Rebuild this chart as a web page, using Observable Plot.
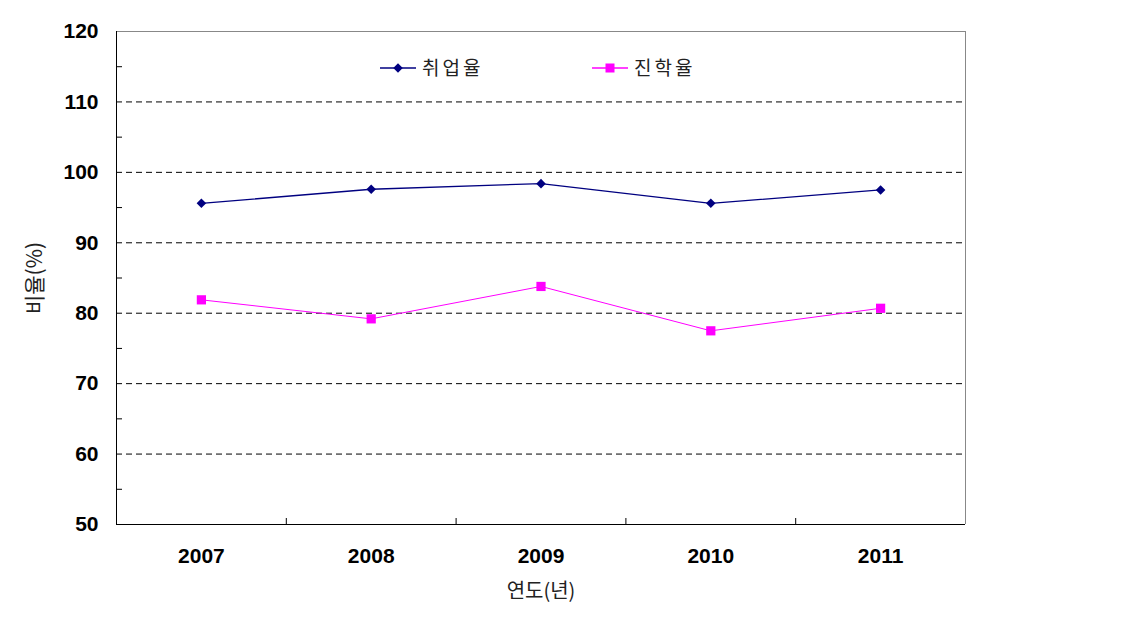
<!DOCTYPE html>
<html>
<head>
<meta charset="utf-8">
<script src="https://cdn.jsdelivr.net/npm/d3@7"></script>
<script src="https://cdn.jsdelivr.net/npm/@observablehq/plot@0.6"></script>
<style>
  body { margin: 0; background: #fff; }
  #chart svg { display: block; }
</style>
</head>
<body>
<div id="chart"></div>
<script>
const years = [2007, 2008, 2009, 2010, 2011];
const seriesNames = ["취업율", "진학율"];
const employmentRate = [95.6, 97.6, 98.4, 95.6, 97.5];
const advancementRate = [81.9, 79.2, 83.8, 77.5, 80.7];
const yTickValues = [50, 60, 70, 80, 90, 100, 110, 120];
const gridValues = [60, 70, 80, 90, 100, 110];
const minorTickValues = [55, 65, 75, 85, 95, 105, 115];
const xLabel = "연도(년)";
const yLabel = "비율(%)";
const colors = ["#000080", "#FF00FF"];

const rows = years.flatMap((yr, i) => [
  {year: yr, series: seriesNames[0], value: employmentRate[i]},
  {year: yr, series: seriesNames[1], value: advancementRate[i]}
]);
const xMin = years[0] - 0.5, xMax = years[years.length - 1] + 0.5;
const boundaries = years.slice(0, -1).map(y => y + 0.5);

const W = 1136, H = 636;
const mL = 116, mT = 31, mR = 171, mB = 112;
const frameW = W - mL - mR, frameH = H - mT - mB;

const korFont = "'Noto Sans CJK KR', 'Noto Sans', sans-serif";

function legend(index, scales, values, dimensions) {
  const g = d3.create("svg:g");
  const y0 = dimensions.marginTop + 37;
  const x0 = dimensions.marginLeft + 264;
  seriesNames.forEach((name, i) => {
    const x = x0 + i * 212;
    g.append("line").attr("x1", x).attr("x2", x + 36).attr("y1", y0).attr("y2", y0)
      .attr("stroke", colors[i]).attr("stroke-width", 1.3);
    if (i === 0) {
      g.append("path").attr("d", d3.symbol(d3.symbolDiamond2, 58)())
        .attr("transform", `translate(${x + 18},${y0})`).attr("fill", colors[i]);
    } else {
      g.append("rect").attr("x", x + 18 - 4.5).attr("y", y0 - 4.5).attr("width", 9).attr("height", 9)
        .attr("fill", colors[i]);
    }
    g.append("text").attr("x", x + 42).attr("y", y0).attr("dy", "0.35em")
      .attr("text-anchor", "start")
      .attr("font-family", korFont).attr("font-size", 19).attr("letter-spacing", 3)
      .attr("fill", "#222").text(name);
  });
  return g.node();
}

const chart = Plot.plot({
  width: W,
  height: H,
  marginLeft: mL,
  marginTop: mT,
  marginRight: mR,
  marginBottom: mB,
  style: {fontFamily: "'Liberation Sans', Arial, sans-serif", color: "#000", background: "#fff"},
  x: {domain: [xMin, xMax], label: null},
  y: {domain: [50, 120], label: null},
  marks: [
    Plot.ruleY(gridValues, {stroke: "#000", strokeDasharray: "6,4", strokeWidth: 1}),
    Plot.ruleY([120], {stroke: "#888"}),
    Plot.ruleX([xMax], {stroke: "#888"}),
    Plot.ruleY([50], {stroke: "#000"}),
    Plot.ruleX([xMin], {stroke: "#000"}),
    Plot.tickY(minorTickValues, {y: d => d, stroke: "#000", insetRight: frameW - 6}),
    Plot.tickX(boundaries, {x: d => d, stroke: "#000", insetTop: frameH - 6}),
    Plot.line(rows.filter(d => d.series === seriesNames[0]), {x: "year", y: "value", stroke: colors[0], strokeWidth: 1.3}),
    Plot.line(rows.filter(d => d.series === seriesNames[1]), {x: "year", y: "value", stroke: colors[1], strokeWidth: 1}),
    Plot.dot(rows.filter(d => d.series === seriesNames[0]), {x: "year", y: "value", symbol: "diamond2", r: 4.3, fill: colors[0]}),
    Plot.dot(rows.filter(d => d.series === seriesNames[1]), {x: "year", y: "value", symbol: "square", r: 5.2, fill: colors[1]}),
    Plot.axisY({ticks: yTickValues, tickSize: 0, tickPadding: 18, fontSize: 21, fontWeight: "bold", label: null}),
    Plot.axisX({ticks: years, tickFormat: d => String(d), tickSize: 0, tickPadding: 24, fontSize: 21, fontWeight: "bold", label: null}),
    Plot.text([xLabel], {text: d => d, frameAnchor: "bottom", dy: 73, fontSize: 20, fontFamily: korFont, fill: "#222", letterSpacing: 3}),
    Plot.text([yLabel], {text: d => d, frameAnchor: "left", textAnchor: "middle", dx: -81, rotate: -90, fontSize: 21, fontFamily: korFont, fill: "#222", letterSpacing: 3}),
    legend
  ]
});
document.getElementById("chart").append(chart);
</script>
</body>
</html>
